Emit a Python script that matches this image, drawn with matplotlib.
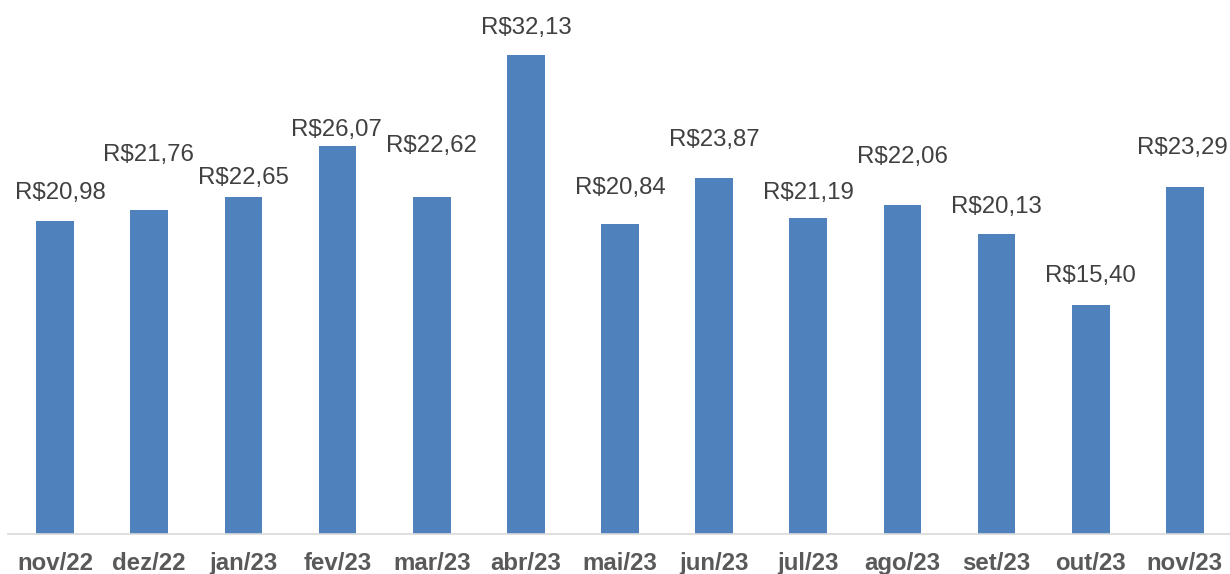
import matplotlib
matplotlib.use('Agg')
import matplotlib.pyplot as plt

months = ['nov/22', 'dez/22', 'jan/23', 'fev/23', 'mar/23', 'abr/23', 'mai/23',
          'jun/23', 'jul/23', 'ago/23', 'set/23', 'out/23', 'nov/23']
values = [20.98, 21.76, 22.65, 26.07, 22.62, 32.13, 20.84,
          23.87, 21.19, 22.06, 20.13, 15.40, 23.29]

# label position relative to bar top, in pixels (Excel moved some of them)
label_dy = [28, 55, 19, 16, 51, 27, 36, 38, 25, 48, 27, 29, 39]
label_dx = [5, -1, 0, -1, 0, 0, 0, 0, 0, 0, 0, 0, -3]

plt.rcParams['font.family'] = ['Liberation Sans', 'DejaVu Sans']

fig = plt.figure(figsize=(12.3, 5.74), dpi=100)
ax = fig.add_axes([8 / 1230, 40 / 574, 1224 / 1230, 534 / 574])

x = range(len(months))
bars = ax.bar(x, values, width=0.4, color='#4F81BD', zorder=2)

for i, b in enumerate(bars):
    ax.annotate('R$' + f'{values[i]:.2f}'.replace('.', ','),
                (b.get_x() + b.get_width() / 2, b.get_height()),
                xytext=(label_dx[i], label_dy[i]), textcoords='offset pixels',
                ha='center', va='center', fontsize=17.3, color='#404040')

ax.set_xlim(-0.5, len(months) - 0.5)
ax.set_ylim(0, 35.85)
ax.set_xticks(list(x))
ax.set_xticklabels(months, fontsize=17.3, fontweight='bold', color='#595959')
ax.tick_params(axis='x', length=0, pad=13)
ax.set_yticks([])
for s in ['top', 'right', 'left']:
    ax.spines[s].set_visible(False)
ax.spines['bottom'].set_color('#D9D9D9')
ax.spines['bottom'].set_linewidth(1.2)

fig.savefig('out.png', dpi=100)
